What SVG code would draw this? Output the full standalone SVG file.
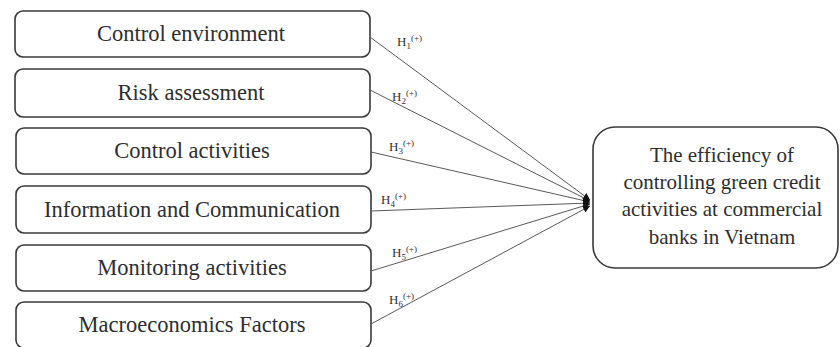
<svg xmlns="http://www.w3.org/2000/svg" width="840" height="347" viewBox="0 0 840 347">
<style>
.box{fill:#fff;stroke:#3a3a3a;stroke-width:1.6}
.t{font-family:"Liberation Serif","Times New Roman",serif;font-size:22.5px;fill:#2e2e2e;text-anchor:middle}
.rt{font-family:"Liberation Serif","Times New Roman",serif;font-size:21px;fill:#2e2e2e;text-anchor:middle}
.c{stroke:#5a5a5a;stroke-width:1;fill:none;marker-end:url(#ah)}
.h{font-family:"Liberation Serif","Times New Roman",serif;font-size:13px;fill:#333}
.s{font-size:9px}
</style>
<defs>
<marker id="ah" viewBox="0 0 10 10" refX="10" refY="5" markerWidth="7" markerHeight="7" markerUnits="userSpaceOnUse" orient="auto">
<path d="M0,0 L10,5 L0,10 z" fill="#111"/>
</marker>
</defs>
<rect width="840" height="347" fill="#fff"/>
<g id="n1"><rect class="box" x="15" y="11" width="355" height="46" rx="8"/><text class="t" x="191" y="41">Control environment</text></g>
<g id="n2"><rect class="box" x="15" y="69" width="355" height="48" rx="8"/><text class="t" x="191" y="100">Risk assessment</text></g>
<g id="n3"><rect class="box" x="16" y="128" width="355" height="46" rx="8"/><text class="t" x="192" y="158">Control activities</text></g>
<g id="n4"><rect class="box" x="16" y="186" width="355" height="47" rx="8"/><text class="t" x="192" y="217">Information and Communication</text></g>
<g id="n5"><rect class="box" x="16" y="245" width="355" height="46" rx="8"/><text class="t" x="192" y="275">Monitoring activities</text></g>
<g id="n6"><rect class="box" x="16" y="302" width="355" height="46" rx="8"/><text class="t" x="192" y="332">Macroeconomics Factors</text></g>
<g id="target"><rect class="box" x="593" y="127" width="245" height="141" rx="22"/>
<text class="rt" x="722" y="162">The efficiency of</text>
<text class="rt" x="722" y="189">controlling green credit</text>
<text class="rt" x="722" y="216">activities at commercial</text>
<text class="rt" x="722" y="244">banks in Vietnam</text></g>
<g id="connectors">
<line class="c" x1="370" y1="37" x2="590" y2="200"/>
<line class="c" x1="370" y1="90" x2="590" y2="201"/>
<line class="c" x1="371" y1="152" x2="590" y2="202"/>
<line class="c" x1="371" y1="211" x2="590" y2="203"/>
<line class="c" x1="371" y1="271" x2="590" y2="204"/>
<line class="c" x1="371" y1="324" x2="590" y2="206"/>
</g>
<g id="labels">
<text class="h" x="397" y="46">H<tspan class="s" dy="3">1</tspan><tspan class="s" dy="-8">(+)</tspan></text>
<text class="h" x="392" y="101">H<tspan class="s" dy="3">2</tspan><tspan class="s" dy="-8">(+)</tspan></text>
<text class="h" x="389" y="151">H<tspan class="s" dy="3">3</tspan><tspan class="s" dy="-8">(+)</tspan></text>
<text class="h" x="381" y="204">H<tspan class="s" dy="3">4</tspan><tspan class="s" dy="-8">(+)</tspan></text>
<text class="h" x="392" y="257">H<tspan class="s" dy="3">5</tspan><tspan class="s" dy="-8">(+)</tspan></text>
<text class="h" x="389" y="304">H<tspan class="s" dy="3">6</tspan><tspan class="s" dy="-8">(+)</tspan></text>
</g>
</svg>
